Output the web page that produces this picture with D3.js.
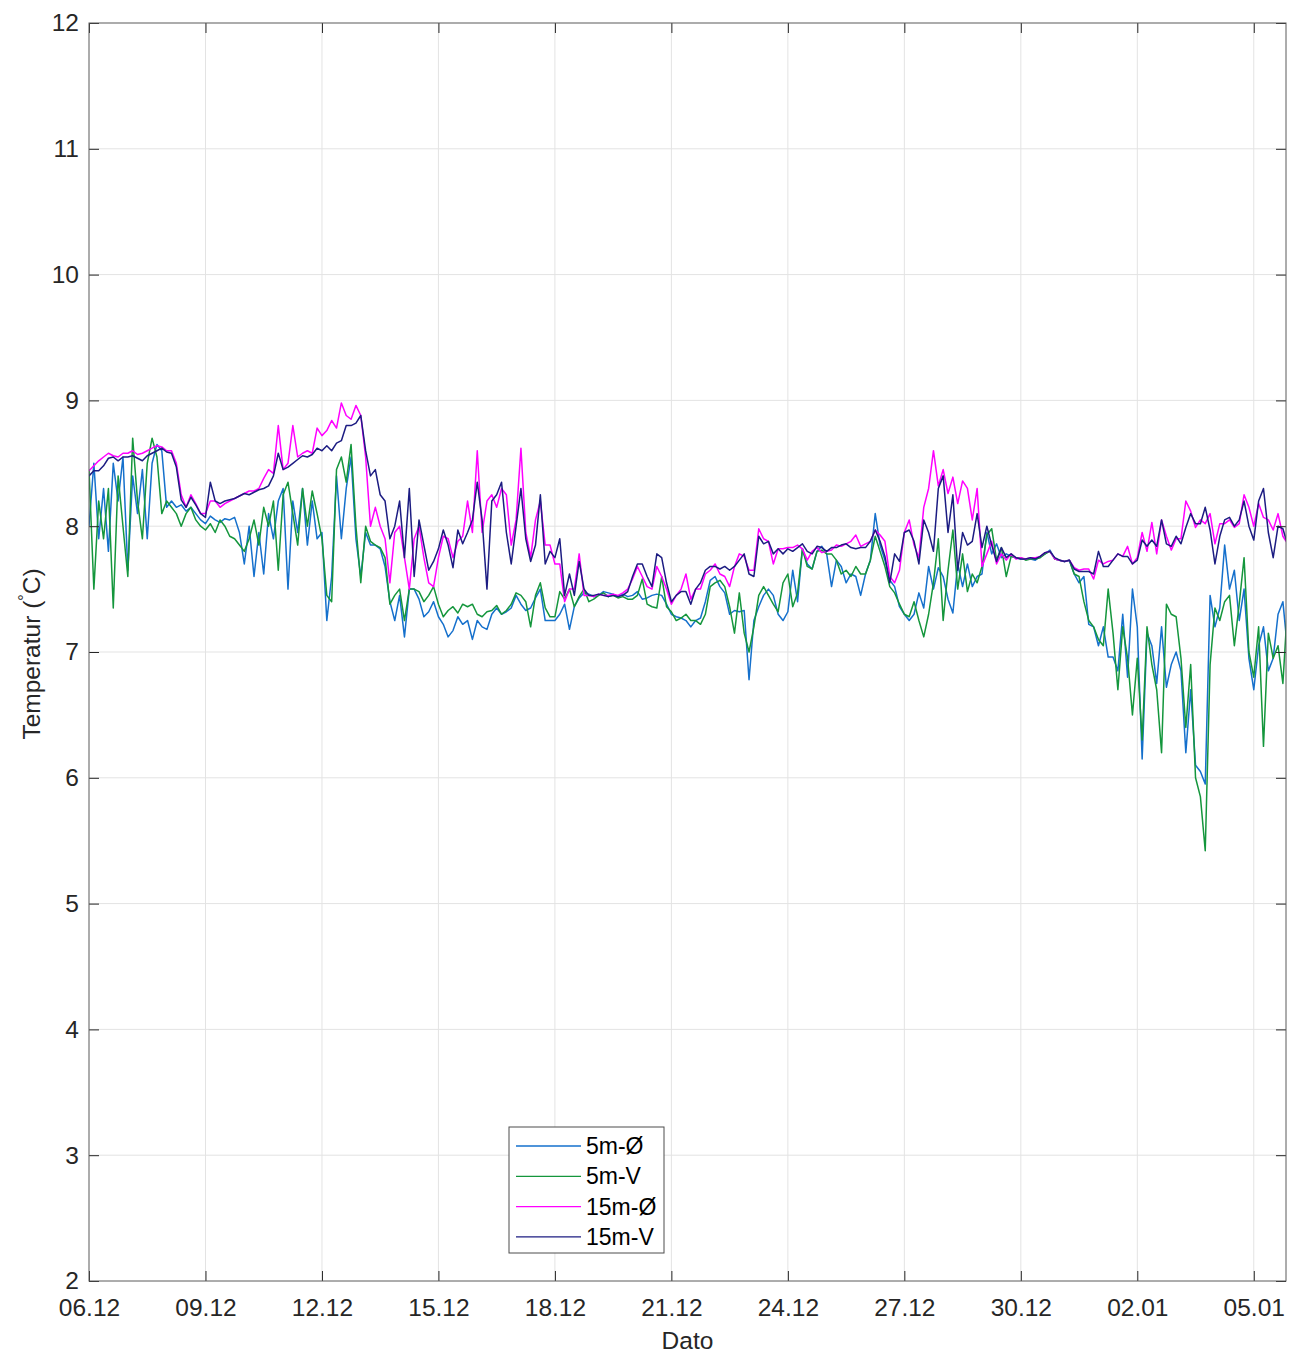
<!DOCTYPE html>
<html>
<head>
<meta charset="utf-8">
<script src="https://cdn.jsdelivr.net/npm/d3@7"></script>
<style>
  body { margin: 0; background: #fff; }
  svg { display: block; font-family: "Liberation Sans", Arial, Helvetica, sans-serif; }
</style>
</head>
<body>
<div id="chart"></div>
<script>
// Måleserier, en verdi hver 3. time fra 06.12 kl 00
const startDate = new Date(2016, 11, 6);
const stepHours = 3;

const s5mO = [
  8.00, 8.50, 7.90, 8.30, 7.80, 8.50, 8.20, 8.55,
  7.65, 8.40, 8.10, 8.45, 7.90, 8.50, 8.65, 8.60,
  8.15, 8.20, 8.15, 8.17, 8.12, 8.15, 8.10, 8.05,
  8.02, 8.08, 8.05, 8.03, 8.06, 8.05, 8.07, 7.95,
  7.70, 8.00, 7.60, 7.95, 7.62, 8.10, 7.90, 8.20,
  8.30, 7.50, 8.20, 7.95, 8.30, 7.85, 8.20, 7.90,
  7.95, 7.25, 7.60, 8.40, 7.90, 8.30, 8.55, 7.90,
  7.60, 7.95, 7.85, 7.85, 7.82, 7.68, 7.40, 7.25,
  7.45, 7.12, 7.50, 7.50, 7.42, 7.28, 7.32, 7.40,
  7.28, 7.22, 7.12, 7.17, 7.28, 7.22, 7.25, 7.10,
  7.25, 7.20, 7.18, 7.30, 7.35, 7.30, 7.32, 7.35,
  7.45, 7.38, 7.33, 7.35, 7.43, 7.50, 7.25, 7.25,
  7.25, 7.30, 7.38, 7.18, 7.36, 7.43, 7.47, 7.46,
  7.44, 7.45, 7.48, 7.47, 7.46, 7.44, 7.46, 7.44,
  7.45, 7.48, 7.42, 7.43, 7.45, 7.46, 7.45, 7.38,
  7.30, 7.28, 7.27, 7.25, 7.20, 7.25, 7.27, 7.40,
  7.57, 7.60, 7.52, 7.47, 7.30, 7.33, 7.32, 7.33,
  6.78, 7.25, 7.36, 7.45, 7.50, 7.45, 7.30, 7.25,
  7.32, 7.65, 7.40, 7.82, 7.70, 7.66, 7.80, 7.84,
  7.78, 7.52, 7.73, 7.68, 7.55, 7.62, 7.60, 7.45,
  7.62, 7.73, 8.10, 7.85, 7.73, 7.57, 7.52, 7.36,
  7.30, 7.25, 7.30, 7.47, 7.35, 7.68, 7.50, 7.67,
  7.60, 7.42, 7.31, 7.70, 7.52, 7.70, 7.52, 7.60,
  7.62, 7.95, 7.78, 7.86, 7.75, 7.78, 7.76, 7.75,
  7.74, 7.74, 7.74, 7.73, 7.76, 7.78, 7.81, 7.74,
  7.73, 7.72, 7.73, 7.62, 7.55, 7.60, 7.22, 7.20,
  7.05, 7.20, 6.96, 6.96, 6.85, 7.30, 6.80, 7.50,
  7.20, 6.15, 7.15, 7.05, 6.75, 7.20, 6.72, 6.90,
  7.00, 6.85, 6.20, 6.70, 6.10, 6.05, 5.95, 7.45,
  7.20, 7.35, 7.85, 7.50, 7.65, 7.25, 7.50, 6.95,
  6.70, 7.05, 7.20, 6.85, 6.95, 7.30, 7.40, 7.00
];

const s5mV = [
  8.45, 7.50, 8.20, 7.90, 8.30, 7.35, 8.40, 8.00,
  7.60, 8.70, 8.20, 7.90, 8.50, 8.70, 8.55, 8.10,
  8.20, 8.15, 8.10, 8.00, 8.10, 8.15, 8.05, 8.00,
  7.97, 8.02, 7.95, 8.05, 8.00, 7.92, 7.90, 7.85,
  7.80, 7.90, 8.05, 7.85, 8.15, 8.00, 8.20, 7.65,
  8.25, 8.35, 8.10, 7.85, 8.30, 8.00, 8.28, 8.10,
  7.90, 7.45, 7.40, 8.45, 8.55, 8.35, 8.65, 8.00,
  7.55, 8.00, 7.88, 7.85, 7.83, 7.75, 7.38, 7.45,
  7.50, 7.25, 7.50, 7.50, 7.48, 7.40, 7.45, 7.52,
  7.38, 7.28, 7.33, 7.36, 7.31, 7.38, 7.36, 7.38,
  7.30, 7.28, 7.32, 7.33, 7.37, 7.30, 7.33, 7.38,
  7.47, 7.45, 7.40, 7.20, 7.45, 7.55, 7.35, 7.28,
  7.28, 7.48, 7.42, 7.50, 7.36, 7.44, 7.50, 7.40,
  7.42, 7.45, 7.47, 7.44, 7.45, 7.43, 7.44, 7.42,
  7.42, 7.45, 7.58, 7.38, 7.36, 7.35, 7.60, 7.36,
  7.32, 7.25, 7.27, 7.30, 7.25, 7.25, 7.22, 7.30,
  7.52, 7.55, 7.57, 7.52, 7.36, 7.15, 7.47, 7.15,
  7.00, 7.20, 7.45, 7.52, 7.45, 7.38, 7.32, 7.55,
  7.62, 7.36, 7.47, 7.82, 7.68, 7.66, 7.80, 7.81,
  7.78, 7.78, 7.73, 7.62, 7.65, 7.60, 7.68, 7.62,
  7.62, 7.73, 7.92, 7.80, 7.68, 7.52, 7.47, 7.38,
  7.30, 7.28, 7.40, 7.25, 7.12, 7.30, 7.55, 7.90,
  7.25, 7.65, 7.97, 7.50, 7.78, 7.48, 7.62, 7.55,
  7.68, 7.93, 7.98, 7.73, 7.83, 7.60, 7.76, 7.75,
  7.75, 7.73, 7.74, 7.74, 7.75, 7.78, 7.80, 7.74,
  7.73, 7.72, 7.73, 7.62, 7.60, 7.40, 7.25, 7.20,
  7.10, 7.05, 7.50, 7.15, 6.70, 7.20, 6.95, 6.50,
  6.95, 6.30, 7.20, 6.90, 6.70, 6.20, 7.38, 7.30,
  7.28, 6.95, 6.40, 6.90, 6.00, 5.85, 5.42, 6.90,
  7.35, 7.25, 7.40, 7.45, 7.05, 7.38, 7.75, 7.00,
  6.80, 7.20, 6.25, 7.15, 6.95, 7.05, 6.75, 7.40
];

const s15mO = [
  8.44, 8.48, 8.52, 8.55, 8.58, 8.56, 8.55, 8.58,
  8.58, 8.60, 8.57, 8.58, 8.60, 8.62, 8.64, 8.63,
  8.60, 8.60, 8.50, 8.25, 8.15, 8.25, 8.18, 8.10,
  8.10, 8.20, 8.20, 8.15, 8.18, 8.20, 8.22, 8.24,
  8.26, 8.28, 8.28, 8.30, 8.38, 8.45, 8.42, 8.80,
  8.45, 8.50, 8.80, 8.55, 8.58, 8.60, 8.58, 8.78,
  8.72, 8.76, 8.84, 8.78, 8.98, 8.88, 8.85, 8.96,
  8.88, 8.55, 8.00, 8.15, 8.00, 7.90, 7.55, 7.95,
  8.00, 7.75, 7.50, 7.90, 8.00, 7.75, 7.55, 7.52,
  7.75, 7.92, 7.90, 7.75, 7.88, 7.92, 8.20, 7.95,
  8.60, 7.95, 8.20, 8.25, 8.15, 8.30, 8.25, 7.85,
  8.05, 8.62, 7.95, 7.75, 8.05, 8.20, 7.85, 7.85,
  7.70, 7.70, 7.40, 7.50, 7.50, 7.78, 7.45, 7.45,
  7.44, 7.46, 7.45, 7.45, 7.46, 7.45, 7.47, 7.50,
  7.58, 7.68, 7.60, 7.52, 7.50, 7.68, 7.60, 7.50,
  7.38, 7.45, 7.50, 7.62, 7.42, 7.50, 7.50, 7.62,
  7.65, 7.70, 7.62, 7.60, 7.52, 7.68, 7.78, 7.76,
  7.65, 7.65, 7.98, 7.90, 7.88, 7.70, 7.82, 7.82,
  7.83, 7.83, 7.85, 7.82, 7.73, 7.80, 7.83, 7.79,
  7.80, 7.81, 7.85, 7.84, 7.86, 7.88, 7.93, 7.84,
  7.86, 7.88, 7.97, 7.93, 7.88, 7.60, 7.55, 7.65,
  7.95, 8.05, 7.85, 7.75, 8.15, 8.30, 8.60, 8.32,
  8.45, 8.26, 8.39, 8.18, 8.36, 8.30, 8.05, 8.30,
  7.68, 7.78, 7.88, 7.70, 7.78, 7.73, 7.78, 7.74,
  7.75, 7.74, 7.75, 7.75, 7.76, 7.79, 7.80, 7.74,
  7.73, 7.72, 7.73, 7.67, 7.65, 7.66, 7.66, 7.58,
  7.73, 7.70, 7.72, 7.73, 7.78, 7.76, 7.84, 7.70,
  7.75, 7.95, 7.80, 8.03, 7.78, 8.05, 7.92, 7.81,
  7.90, 7.90, 8.20, 8.12, 7.99, 8.05, 8.02, 8.10,
  7.86, 8.02, 8.02, 8.05, 7.99, 8.02, 8.25, 8.15,
  8.00, 8.18, 8.07, 8.05, 7.97, 8.10, 7.92, 7.86
];

const s15mV = [
  8.40, 8.44, 8.44, 8.48, 8.54, 8.55, 8.52, 8.55,
  8.55, 8.56, 8.54, 8.52, 8.56, 8.58, 8.60, 8.62,
  8.59, 8.58, 8.47, 8.21, 8.15, 8.23, 8.17, 8.10,
  8.07, 8.35, 8.20, 8.18, 8.20, 8.21, 8.22, 8.24,
  8.26, 8.25, 8.27, 8.29, 8.30, 8.32, 8.40, 8.58,
  8.45, 8.47, 8.50, 8.53, 8.56, 8.55, 8.57, 8.62,
  8.60, 8.64, 8.60, 8.66, 8.68, 8.80, 8.80, 8.82,
  8.88, 8.60, 8.40, 8.45, 8.25, 8.20, 7.90, 8.00,
  8.20, 7.75, 8.30, 7.60, 8.05, 7.85, 7.65, 7.72,
  7.82, 7.97, 7.85, 7.67, 7.97, 7.86, 7.95, 8.05,
  8.35, 8.05, 7.50, 8.20, 8.25, 8.35, 7.95, 7.70,
  8.00, 8.30, 7.90, 7.72, 7.85, 8.25, 7.70, 7.80,
  7.75, 7.90, 7.45, 7.62, 7.45, 7.72, 7.50, 7.45,
  7.45, 7.46, 7.45, 7.44, 7.45, 7.44, 7.45, 7.48,
  7.60, 7.70, 7.70, 7.60, 7.52, 7.78, 7.75, 7.55,
  7.40, 7.45, 7.48, 7.48, 7.38, 7.50, 7.55, 7.65,
  7.68, 7.68, 7.66, 7.68, 7.65, 7.68, 7.73, 7.78,
  7.62, 7.60, 7.92, 7.86, 7.88, 7.78, 7.82, 7.78,
  7.82, 7.80, 7.83, 7.86, 7.80, 7.78, 7.84, 7.83,
  7.80, 7.83, 7.83, 7.85, 7.86, 7.83, 7.82, 7.83,
  7.83, 7.88, 7.97, 7.88, 7.76, 7.55, 7.78, 7.72,
  7.95, 7.97, 7.88, 7.70, 8.05, 7.95, 7.80, 8.30,
  8.40, 7.95, 8.25, 7.65, 7.95, 7.85, 7.88, 8.10,
  7.83, 8.00, 7.85, 7.72, 7.83, 7.75, 7.78, 7.75,
  7.74, 7.74, 7.75, 7.74, 7.76, 7.79, 7.80, 7.75,
  7.73, 7.72, 7.73, 7.66, 7.64, 7.64, 7.64, 7.62,
  7.80, 7.68, 7.68, 7.73, 7.78, 7.76, 7.76, 7.70,
  7.73, 7.89, 7.84, 7.89, 7.84, 8.05, 7.86, 7.84,
  7.92, 7.86, 7.99, 8.10, 8.02, 8.02, 8.15, 7.97,
  7.70, 7.92, 8.05, 8.07, 8.00, 8.05, 8.20, 8.00,
  7.89, 8.20, 8.30, 7.95, 7.75, 8.00, 7.98, 7.85
];

const seriesNames = ["5m-Ø", "5m-V", "15m-Ø", "15m-V"];
const seriesColors = ["#1570cc", "#14963c", "#ff00ff", "#1c1c82"];
const yTicks = [2, 3, 4, 5, 6, 7, 8, 9, 10, 11, 12];
const xTickDays = [0, 3, 6, 9, 12, 15, 18, 21, 24, 27, 30];
const endDay = 30.83;

const width = 1290;
const height = 1355;
const margin = { top: 23, right: 4, bottom: 74, left: 89 };
const plotW = width - margin.left - margin.right;
const plotH = height - margin.top - margin.bottom;

const dayToDate = d => new Date(startDate.getTime() + d * 864e5);

const x = d3.scaleTime()
    .domain([startDate, dayToDate(endDay)])
    .range([0, plotW]);
const y = d3.scaleLinear().domain([2, 12]).range([plotH, 0]);

const svg = d3.select("#chart").append("svg")
    .attr("width", width)
    .attr("height", height);

const g = svg.append("g")
    .attr("transform", "translate(" + margin.left + "," + margin.top + ")");

const xTickDates = xTickDays.map(dayToDate);
const fmt = d3.timeFormat("%d.%m");

// rutenett
g.append("g").selectAll("line")
    .data(yTicks.slice(1, -1))
    .join("line")
    .attr("x1", 0).attr("x2", plotW)
    .attr("y1", d => y(d)).attr("y2", d => y(d))
    .attr("stroke", "#e3e3e3").attr("stroke-width", 1);

g.append("g").selectAll("line")
    .data(xTickDates.slice(1))
    .join("line")
    .attr("x1", d => x(d)).attr("x2", d => x(d))
    .attr("y1", 0).attr("y2", plotH)
    .attr("stroke", "#e3e3e3").attr("stroke-width", 1);

// linjer
g.append("clipPath").attr("id", "clip")
    .append("rect").attr("width", plotW).attr("height", plotH);

const allSeries = [s5mO, s5mV, s15mO, s15mV];
const line = d3.line()
    .x((d, i) => x(dayToDate(i * stepHours / 24)))
    .y(d => y(d));

g.append("g").attr("clip-path", "url(#clip)")
    .selectAll("path")
    .data(allSeries)
    .join("path")
    .attr("d", line)
    .attr("fill", "none")
    .attr("stroke", (d, i) => seriesColors[i])
    .attr("stroke-width", 1.5)
    .attr("stroke-linejoin", "round");

// akser
const axisColor = "#262626";
const tickLen = 10;

const yAxisL = g.append("g").call(d3.axisLeft(y).tickValues(yTicks).tickSize(-tickLen).tickPadding(10));
const yAxisR = g.append("g").attr("transform", "translate(" + plotW + ",0)")
    .call(d3.axisRight(y).tickValues(yTicks).tickSize(-tickLen).tickFormat(""));
const xAxisB = g.append("g").attr("transform", "translate(0," + plotH + ")")
    .call(d3.axisBottom(x).tickValues(xTickDates).tickFormat(fmt).tickSize(-tickLen).tickPadding(18));
const xAxisT = g.append("g")
    .call(d3.axisTop(x).tickValues(xTickDates).tickSize(-tickLen).tickFormat(""));

[yAxisL, yAxisR, xAxisB, xAxisT].forEach(a => {
    a.select(".domain").remove();
    a.selectAll(".tick line").attr("stroke", axisColor).attr("stroke-width", 1);
    a.selectAll(".tick text")
        .attr("fill", axisColor)
        .style("font-size", "24.5px")
        .style("font-family", "'Liberation Sans', Arial, sans-serif");
});

g.append("rect")
    .attr("width", plotW).attr("height", plotH)
    .attr("fill", "none")
    .attr("stroke", "#5a5a5a").attr("stroke-width", 1);

// aksetitler
svg.append("text")
    .attr("x", margin.left + plotW / 2)
    .attr("y", 1349)
    .attr("text-anchor", "middle")
    .attr("fill", axisColor)
    .style("font-size", "24.5px")
    .text("Dato");

const yLab = svg.append("text")
    .attr("transform", "translate(40," + (margin.top + plotH / 2 + 2) + ") rotate(-90)")
    .attr("text-anchor", "middle")
    .attr("fill", axisColor)
    .style("font-size", "24.5px");
yLab.append("tspan").text("Temperatur (");
yLab.append("tspan").attr("dy", -10).style("font-size", "16px").text("°");
yLab.append("tspan").attr("dy", 10).text("C)");

// legende
const legend = svg.append("g").attr("transform", "translate(509,1127)");
legend.append("rect")
    .attr("width", 155).attr("height", 126)
    .attr("fill", "#fff")
    .attr("stroke", "#4d4d4d").attr("stroke-width", 1);

const rows = legend.selectAll("g.row")
    .data(seriesNames)
    .join("g")
    .attr("class", "row")
    .attr("transform", (d, i) => "translate(0," + (19 + i * 30.3) + ")");

rows.append("line")
    .attr("x1", 7).attr("x2", 72)
    .attr("stroke", (d, i) => seriesColors[i])
    .attr("stroke-width", 1.3);

rows.append("text")
    .attr("x", 77).attr("dy", "0.35em")
    .attr("fill", "#000")
    .style("font-size", "23px")
    .text(d => d);
</script>
</body>
</html>
